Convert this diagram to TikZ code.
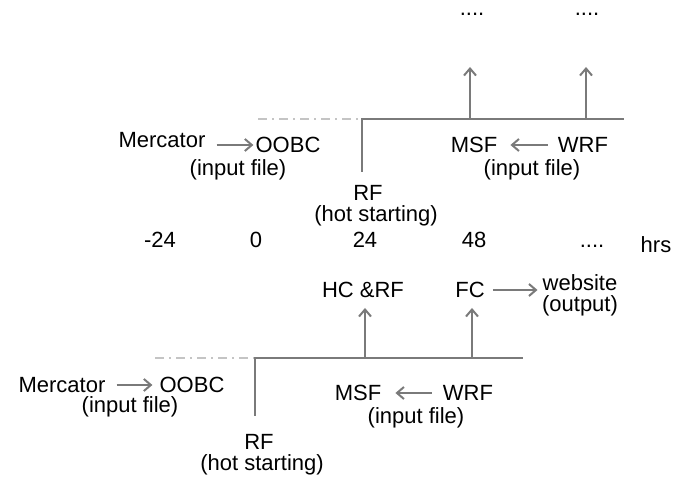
\documentclass[tikz,border=0pt]{standalone}
\usepackage{fontspec}
\setmainfont{Liberation Sans}
\usetikzlibrary{arrows.meta, positioning}
\definecolor{linegray}{HTML}{7A7A7A}
\definecolor{dashgray}{HTML}{C4C4C4}

\begin{document}
\begin{tikzpicture}[x=1pt, y=-1pt,
    lbl/.style={inner sep=0pt, font=\fontsize{22}{24}\selectfont, text=black},
    axis/.style={lbl, anchor=base},
    tline/.style={draw=linegray, line width=2.4pt},
    past/.style={draw=dashgray, line width=1.8pt, dash pattern=on 9pt off 5pt on 2pt off 5pt},
    arr/.style={-{Straight Barb[length=7pt, width=12pt]}, draw=linegray, line width=2pt, shorten <=11pt, shorten >=5pt},
    up/.style={arr, shorten <=0pt, shorten >=0pt},
]
    \useasboundingbox (0,0) rectangle (678,478);

    % upper run
    \coordinate (tstart) at (258,119);
    \coordinate (tcorner) at (362,119);
    \coordinate (tfoot) at (362,172);
    \coordinate (tend) at (624,119);
    \coordinate (ta) at (470,119);
    \coordinate (tb) at (586,119);
    \coordinate (tatip) at (470,67);
    \coordinate (tbtip) at (586,67);
    \draw[past] (tstart) -- (tcorner);
    \draw[tline] (tfoot) -- (tcorner) -- (tend);
    \draw[up] (ta) -- (tatip);
    \draw[up] (tb) -- (tbtip);
    \node[axis] (tdotsa) at (472,16) {....};
    \node[axis] (tdotsb) at (587,16) {....};

    \node[lbl] (merc1) at (162,140) {Mercator};
    \node[lbl] (oobc1) at (288,145) {OOBC};
    \node[lbl] (inp1) at (238,170) {(input file)};
    \node[lbl] (msf1) at (474,145) {MSF};
    \node[lbl] (wrf1) at (583,145) {WRF};
    \node[lbl] (inp2) at (532,170) {(input file)};
    \node[lbl] (rf1) at (368,193) {RF};
    \node[lbl, below=5pt of rf1, xshift=8pt] (hot1) {(hot starting)};
    \draw[arr, shorten >=2pt] (merc1.east |- oobc1.west) -- (oobc1.west);
    \draw[arr, shorten <=10pt, shorten >=13pt] (wrf1.west) -- (msf1.east);

    % time axis
    \node[axis] (tm24) at (160,248) {-24};
    \node[axis] (t0) at (256,248) {0};
    \node[axis] (t24) at (365,248) {24};
    \node[axis] (t48) at (474,248) {48};
    \node[axis] (tmore) at (592,248) {....};
    \node[axis] (hrs) at (656,253) {hrs};

    % lower run
    \coordinate (bstart) at (155,358);
    \coordinate (bcorner) at (255,358);
    \coordinate (bfoot) at (255,416);
    \coordinate (bend) at (523,358);
    \coordinate (ba) at (365,358);
    \coordinate (bb) at (472,358);
    \draw[past] (bstart) -- (bcorner);
    \draw[tline] (bfoot) -- (bcorner) -- (bend);

    \node[lbl] (hcrf) at (363,290) {HC \&RF};
    \node[lbl] (fc) at (470,290) {FC};
    \node[lbl] (web) at (580,283) {website};
    \node[lbl, below=4pt of web] (outp) {(output)};
    \draw[up, shorten >=10pt] (ba) -- (ba |- hcrf.south);
    \draw[up, shorten >=10pt] (bb) -- (bb |- fc.south);
    \draw[arr, shorten <=8pt, shorten >=5pt] (fc.east) -- (fc.east -| web.west);

    \node[lbl] (merc2) at (62,385) {Mercator};
    \node[lbl] (oobc2) at (192,385) {OOBC};
    \node[lbl] (inp3) at (130,407) {(input file)};
    \node[lbl] (msf2) at (358,393) {MSF};
    \node[lbl] (wrf2) at (468,393) {WRF};
    \node[lbl] (inp4) at (416,418) {(input file)};
    \node[lbl] (rf2) at (259,442) {RF};
    \node[lbl, below=5pt of rf2, xshift=3pt] (hot2) {(hot starting)};
    \draw[arr, shorten >=7pt] (merc2.east |- oobc2.west) -- (oobc2.west);
    \draw[arr, shorten <=11pt, shorten >=14pt] (wrf2.west) -- (msf2.east);
\end{tikzpicture}
\end{document}
